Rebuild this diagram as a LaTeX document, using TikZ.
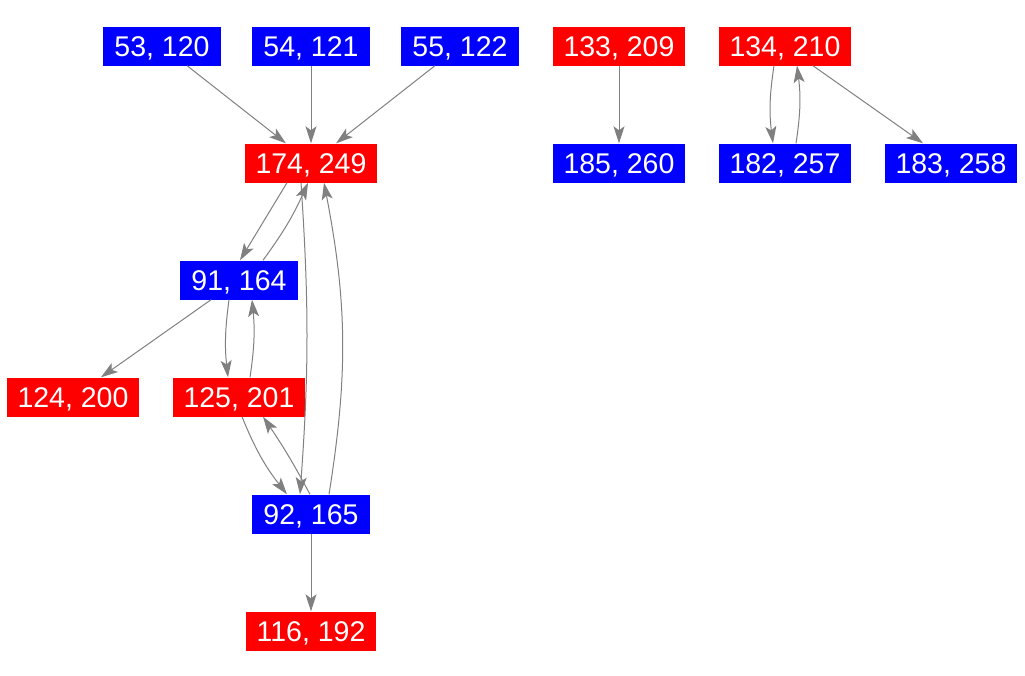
\documentclass[tikz,border=0pt]{standalone}
\usepackage{fontspec}
\setmainfont{Liberation Sans}
\usetikzlibrary{arrows.meta}
\begin{document}
\begin{tikzpicture}[x=1pt,y=-1pt,
  nd/.style={text=white, font=\fontsize{28.5}{30}\selectfont, minimum height=39pt,
    inner xsep=11pt, inner ysep=0pt, text height=20pt, text depth=0pt},
  bl/.style={nd, fill=blue},
  rd/.style={nd, fill=red},
  edge/.style={draw=gray, line width=1pt, -{Stealth[length=17pt,width=11pt,inset=4pt]}}]
\useasboundingbox (0,0) rectangle (1025,675);
\node[bl] (n53) at (162,46) {53, 120};
\node[bl] (n54) at (311,46) {54, 121};
\node[bl] (n55) at (460,46) {55, 122};
\node[rd] (n133) at (619,46) {133, 209};
\node[rd] (n134) at (785,46) {134, 210};
\node[rd] (n174) at (311,163) {174, 249};
\node[bl] (n185) at (619,163) {185, 260};
\node[bl] (n182) at (785,163) {182, 257};
\node[bl] (n183) at (951,163) {183, 258};
\node[bl] (n91) at (239,280) {91, 164};
\node[rd] (n124) at (73,397) {124, 200};
\node[rd] (n125) at (239,397) {125, 201};
\node[bl] (n92) at (311,514) {92, 165};
\node[rd] (n116) at (311,631) {116, 192};

\draw[edge] (n53) -- (n174);
\draw[edge] (n54) -- (n174);
\draw[edge] (n55) -- (n174);
\draw[edge] (n133) -- (n185);
\draw[edge] (n134) -- (n183);
\draw[edge] ([xshift=-11pt]n134.south) to[bend right=8] ([xshift=-12pt]n182.north);
\draw[edge] ([xshift=11pt]n182.north) to[bend right=8] ([xshift=12pt]n134.south);
\draw[edge] ([xshift=-24pt]n174.south) -- ([xshift=1pt]n91.north);
\draw[edge] ([xshift=24pt]n91.north) to[bend right=6] ([xshift=-3pt]n174.south);
\draw[edge] ([xshift=-10pt]n174.south) to[bend left=4] ([xshift=-11pt]n92.north);
\draw[edge] ([xshift=18pt]n92.north) to[bend right=10] ([xshift=13pt]n174.south);
\draw[edge] (n91) -- (n124);
\draw[edge] ([xshift=-10pt]n91.south) to[bend right=7] ([xshift=-11pt]n125.north);
\draw[edge] ([xshift=11pt]n125.north) to[bend right=7] ([xshift=13pt]n91.south);
\draw[edge] ([xshift=3pt]n125.south) to[bend right=8] ([xshift=-24pt]n92.north);
\draw[edge] ([xshift=-1pt]n92.north) to[bend right=3] ([xshift=24pt]n125.south);
\draw[edge] (n92) -- (n116);
\end{tikzpicture}
\end{document}
